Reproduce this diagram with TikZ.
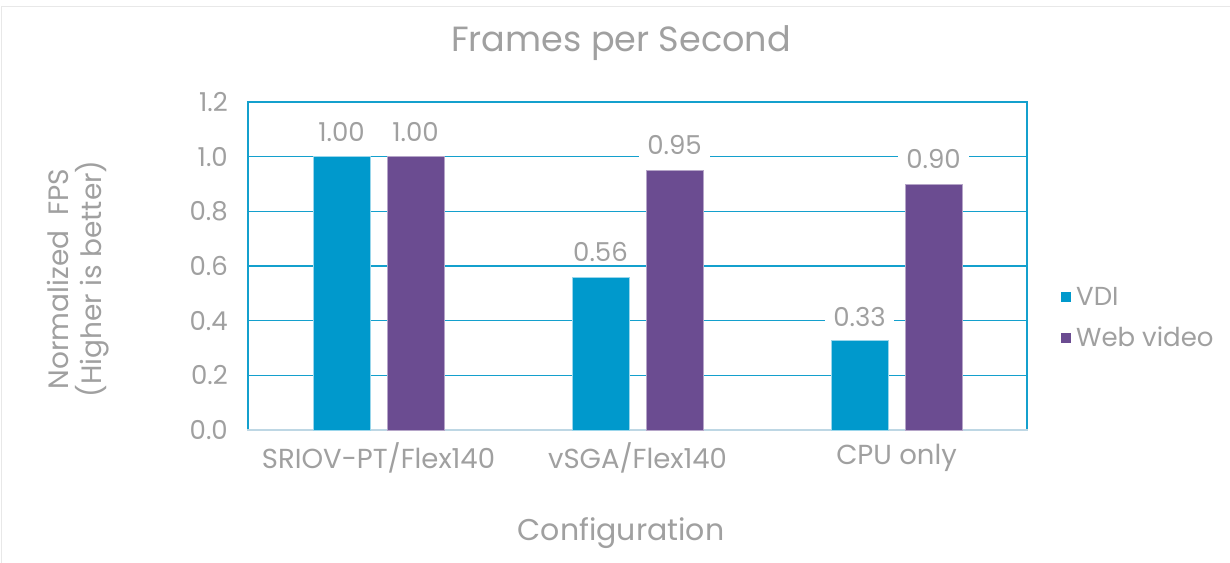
\documentclass[tikz,border=0pt]{standalone}
\usepackage{fontspec}
\setmainfont{Poppins}
\definecolor{vdi}{RGB}{0,153,204}
\definecolor{web}{RGB}{107,76,145}
\definecolor{txt}{RGB}{160,160,160}
\definecolor{frame}{RGB}{232,232,232}
\definecolor{grid}{RGB}{20,160,205}
\definecolor{base}{RGB}{190,215,228}
\begin{document}
\begin{tikzpicture}[x=1pt,y=-1pt,
  lbl/.style={text=txt,font=\fontsize{26}{30}\selectfont,inner sep=0pt},
  catlbl/.style={text=txt,font=\fontsize{27.5}{31}\selectfont,inner sep=0pt},
  vlbl/.style={text=txt,font=\fontsize{26}{30}\selectfont,fill=white,inner xsep=8pt,inner ysep=3pt},
  gridline/.style={draw=grid,line width=1.6pt},
  barvdi/.style={fill=vdi,draw=vdi!40,line width=0.6pt},
  barweb/.style={fill=web,draw=web!50,line width=0.6pt}]
\useasboundingbox (0,0) rectangle (1230,562);
\fill[white] (0,0) rectangle (1230,562);
\draw[frame,line width=1.6pt] (1.5,570) -- (1.5,6.5) -- (1240,6.5);
% title
\node[text=txt,font=\fontsize{35}{40}\selectfont] (title) at (621,43) {Frames per Second};
% gridlines
\foreach \v/\t in {0.2/0.2,0.4/0.4,0.6/0.6,0.8/0.8,1.0/1.0,1.2/1.2}{
  \draw[gridline] (248,{430-\v*273.33}) -- (1027,{430-\v*273.33});
  \node[lbl,anchor=east] at (228,{430-\v*273.33}) {\t};
}
\node[lbl,anchor=east] (t0) at (228,430) {0.0};
\draw[gridline] (248,101) -- (248,430);
\draw[gridline] (1027,101) -- (1027,430);
\draw[draw=base,line width=1.6pt] (247,430) -- (1028,430);
% bars
\fill[barvdi] (313,430) rectangle (370,{430-1.00*273.33});
\fill[barweb] (387,430) rectangle (444,{430-1.00*273.33});
\fill[barvdi] (572,430) rectangle (629,{430-0.56*273.33});
\fill[barweb] (646,430) rectangle (703,{430-0.95*273.33});
\fill[barvdi] (831,430) rectangle (888,{430-0.33*273.33});
\fill[barweb] (905,430) rectangle (962,{430-0.90*273.33});
% value labels
\node[vlbl] (v1) at (341.5,132) {1.00};
\node[vlbl] (v2) at (415.5,132) {1.00};
\node[vlbl] (v3) at (600.5,252) {0.56};
\node[vlbl] (v4) at (674.5,145) {0.95};
\node[vlbl] (v5) at (859.5,317) {0.33};
\node[vlbl] (v6) at (933.5,159) {0.90};
% category labels
\node[catlbl] (c1) at (378.5,458) {SRIOV-PT/Flex140};
\node[catlbl] (c2) at (637.5,458) {vSGA/Flex140};
\node[catlbl] (c3) at (896.5,458) {CPU only};
% axis titles
\node[text=txt,font=\fontsize{28}{33}\selectfont,rotate=90,align=center] (ytitle) at (78,279) {Normalized\ \ FPS\\(Higher is better)};
\node[text=txt,font=\fontsize{30}{34}\selectfont] (xtitle) at (621,533) {Configuration};
% legend
\fill[vdi] (1061,292) rectangle (1071,302);
\node[lbl,anchor=west] (l1) at (1076,296) {VDI};
\fill[web] (1061,333) rectangle (1071,343);
\node[lbl,anchor=west] (l2) at (1076,337) {Web video};
\end{tikzpicture}
\end{document}
